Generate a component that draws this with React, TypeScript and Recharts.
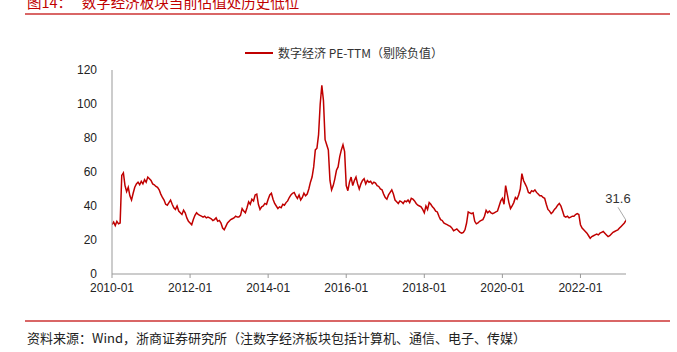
import { LabelList, Line, LineChart, XAxis, YAxis } from "recharts";

// half-month PE-TTM readings, 24 per year (1st & 16th of each month)
const pe2010 = [29, 30.5, 28.5, 31, 29.5, 30, 58, 59.5, 52, 48.5, 51, 46, 43.5, 47.5, 51, 53, 54, 52.5, 54.5, 53, 55.5, 54, 57, 56];
const pe2011 = [55, 53, 52.5, 51.5, 51, 49.5, 47, 45, 43.5, 41, 40.5, 42, 43.5, 41, 39, 38, 40, 37, 36, 35, 37.5, 36, 33, 31];
const pe2012 = [30, 29, 32, 34.5, 36, 35, 34.5, 34, 33.5, 34, 33, 33.5, 33, 32.5, 31.5, 32, 33, 31, 31.5, 30, 27, 26, 28, 30];
const pe2013 = [31, 32, 32.5, 33, 34, 33.5, 33.5, 34.5, 38.5, 37, 36, 39, 42.5, 41, 44, 43, 46.5, 47, 41, 38, 39.5, 40, 41.5, 41];
const pe2014 = [44, 46.5, 47.5, 44, 41.5, 40, 38.5, 39.5, 39, 41, 40.5, 42, 43, 45, 46.5, 47.5, 48, 46, 44.5, 46.5, 43.5, 45, 47.5, 46];
const pe2015 = [47, 50, 54, 57, 63, 73, 74, 82, 100, 111, 102, 79, 76, 73, 55, 49.5, 52, 56, 61, 63, 69, 73, 76, 72];
const pe2016 = [52, 49, 54, 57, 52, 55, 57, 53, 50, 53, 55, 56, 53, 55, 54, 54.5, 53, 54, 53.5, 52, 51.5, 50, 49.5, 47];
const pe2017 = [45, 44, 46.5, 48, 49.5, 47, 43.5, 42.5, 41.5, 43, 42.5, 41.5, 43, 42.5, 43.5, 42, 44.5, 44, 43, 41.5, 40.5, 40, 39.5, 38];
const pe2018 = [36, 40, 38, 42, 41, 39.5, 38.5, 37, 36.5, 34, 32, 31.5, 30, 29.5, 29, 28.5, 28, 27, 25.5, 26, 26.5, 25.5, 24.5, 24];
const pe2019 = [24.5, 26, 30, 36.5, 36, 35.5, 36, 31, 29.5, 30, 31, 31.5, 32, 34, 37.5, 36, 37, 36, 35.5, 36, 36.5, 37, 40, 43];
const pe2020 = [44.5, 41, 52, 47, 42, 38.5, 40, 42, 45, 44, 46.5, 50, 59, 55, 53, 51, 48, 47.5, 49, 48.5, 49.5, 48, 47, 46];
const pe2021 = [46, 45, 44.5, 41, 38, 37, 35.5, 36.5, 38, 39, 40.5, 41.5, 40, 37, 34, 33.5, 34, 33, 33.5, 34, 34, 35, 35.5, 35];
const pe2022 = [29, 27, 26, 25, 24, 22.5, 21, 22, 22.5, 23, 23.5, 23, 24, 24.5, 25, 24, 23, 22, 22.5, 23.5, 24.5, 25, 25.5, 26];
const pe2023 = [27, 28, 29, 30, 31.6];

const peValues = [
  ...pe2010, ...pe2011, ...pe2012, ...pe2013, ...pe2014, ...pe2015, ...pe2016,
  ...pe2017, ...pe2018, ...pe2019, ...pe2020, ...pe2021, ...pe2022, ...pe2023,
];

const yTicks = [0, 20, 40, 60, 80, 100, 120];
const xTickLabels = ["2010-01", "2012-01", "2014-01", "2016-01", "2018-01", "2020-01", "2022-01"];

const SERIES_NAME = "数字经济 PE-TTM（剔除负值）";
const RED = "#c00000";
const RULE = "#d96666";

// year as a decimal, so a numeric axis can place the ticks
const toYear = (label: string) => {
  const [y, m] = label.split("-").map(Number);
  return y + (m - 1) / 12;
};
const xTicks = xTickLabels.map(toYear);

const data = peValues.map((pe, i) => ({ t: 2010 + i / 24, pe }));
const lastIndex = data.length - 1;

const fmtTick = (v: number) => `${Math.round(v)}-01`;

function LastLabel(props: any) {
  const { x, y, index, value } = props;
  if (index !== lastIndex) return null;
  return (
    <g>
      <line x1={x - 8} y1={y - 13} x2={x} y2={y} stroke="#aaa" strokeWidth={1} />
      <text x={x - 8} y={y - 17} textAnchor="middle" fontSize={13} fill="#333" fontFamily="Liberation Sans, Arial, sans-serif">
        {value}
      </text>
    </g>
  );
}

export default function App() {
  return (
    <div style={{ position: "absolute", left: 0, top: 0, width: 677, height: 352, background: "#fff", overflow: "hidden" }}>
      <div
        style={{
          position: "absolute",
          left: 27,
          top: -9,
          fontSize: 14.5,
          color: RED,
          fontFamily: "'Noto Sans CJK SC', serif",
          whiteSpace: "pre",
        }}
      >
        {"图14：   数字经济板块当前估值处历史低位"}
      </div>
      <div style={{ position: "absolute", left: 25, top: 13, width: 645, height: 2, background: RULE }} />

      {/* legend */}
      <div
        style={{
          position: "absolute",
          left: 245,
          top: 44,
          display: "flex",
          alignItems: "center",
          fontSize: 12,
          color: "#333",
          whiteSpace: "pre",
        }}
      >
        <span style={{ display: "inline-block", width: 28, height: 2, background: RED, marginRight: 5 }} />
        <span style={{ fontFamily: "'Noto Sans CJK SC', 'Liberation Sans', sans-serif" }}>{SERIES_NAME}</span>
      </div>

      <div style={{ position: "absolute", left: 0, top: 0 }}>
        <LineChart width={677} height={352} data={data} margin={{ top: 70, right: 51, bottom: 48, left: 72 }}>
          <XAxis
            dataKey="t"
            type="number"
            domain={[2010, 2010 + lastIndex / 24]}
            ticks={xTicks}
            tickFormatter={fmtTick}
            allowDataOverflow
            stroke="#999"
            tickSize={4}
            tickMargin={5}
            height={30}
            tick={{ fill: "#222", fontSize: 12, fontFamily: "Liberation Sans, Arial, sans-serif" }}
          />
          <YAxis
            domain={[0, 120]}
            ticks={yTicks}
            width={40}
            stroke="#999"
            tickLine={false}
            tickSize={6}
            tickMargin={9}
            tick={{ fill: "#222", fontSize: 12, fontFamily: "Liberation Sans, Arial, sans-serif" }}
          />
          <Line
            type="linear"
            dataKey="pe"
            name={SERIES_NAME}
            stroke={RED}
            strokeWidth={1.5}
            dot={false}
            isAnimationActive={false}
          >
            <LabelList dataKey="pe" content={<LastLabel />} />
          </Line>
        </LineChart>
      </div>

      <div style={{ position: "absolute", left: 25, top: 320, width: 645, height: 2, background: RULE }} />
      <div
        style={{
          position: "absolute",
          left: 27,
          top: 328,
          fontSize: 13,
          color: "#222",
          fontFamily: "'Noto Sans CJK SC', serif",
          whiteSpace: "pre",
        }}
      >
        {"资料来源：Wind，浙商证券研究所（注数字经济板块包括计算机、通信、电子、传媒）"}
      </div>
    </div>
  );
}
